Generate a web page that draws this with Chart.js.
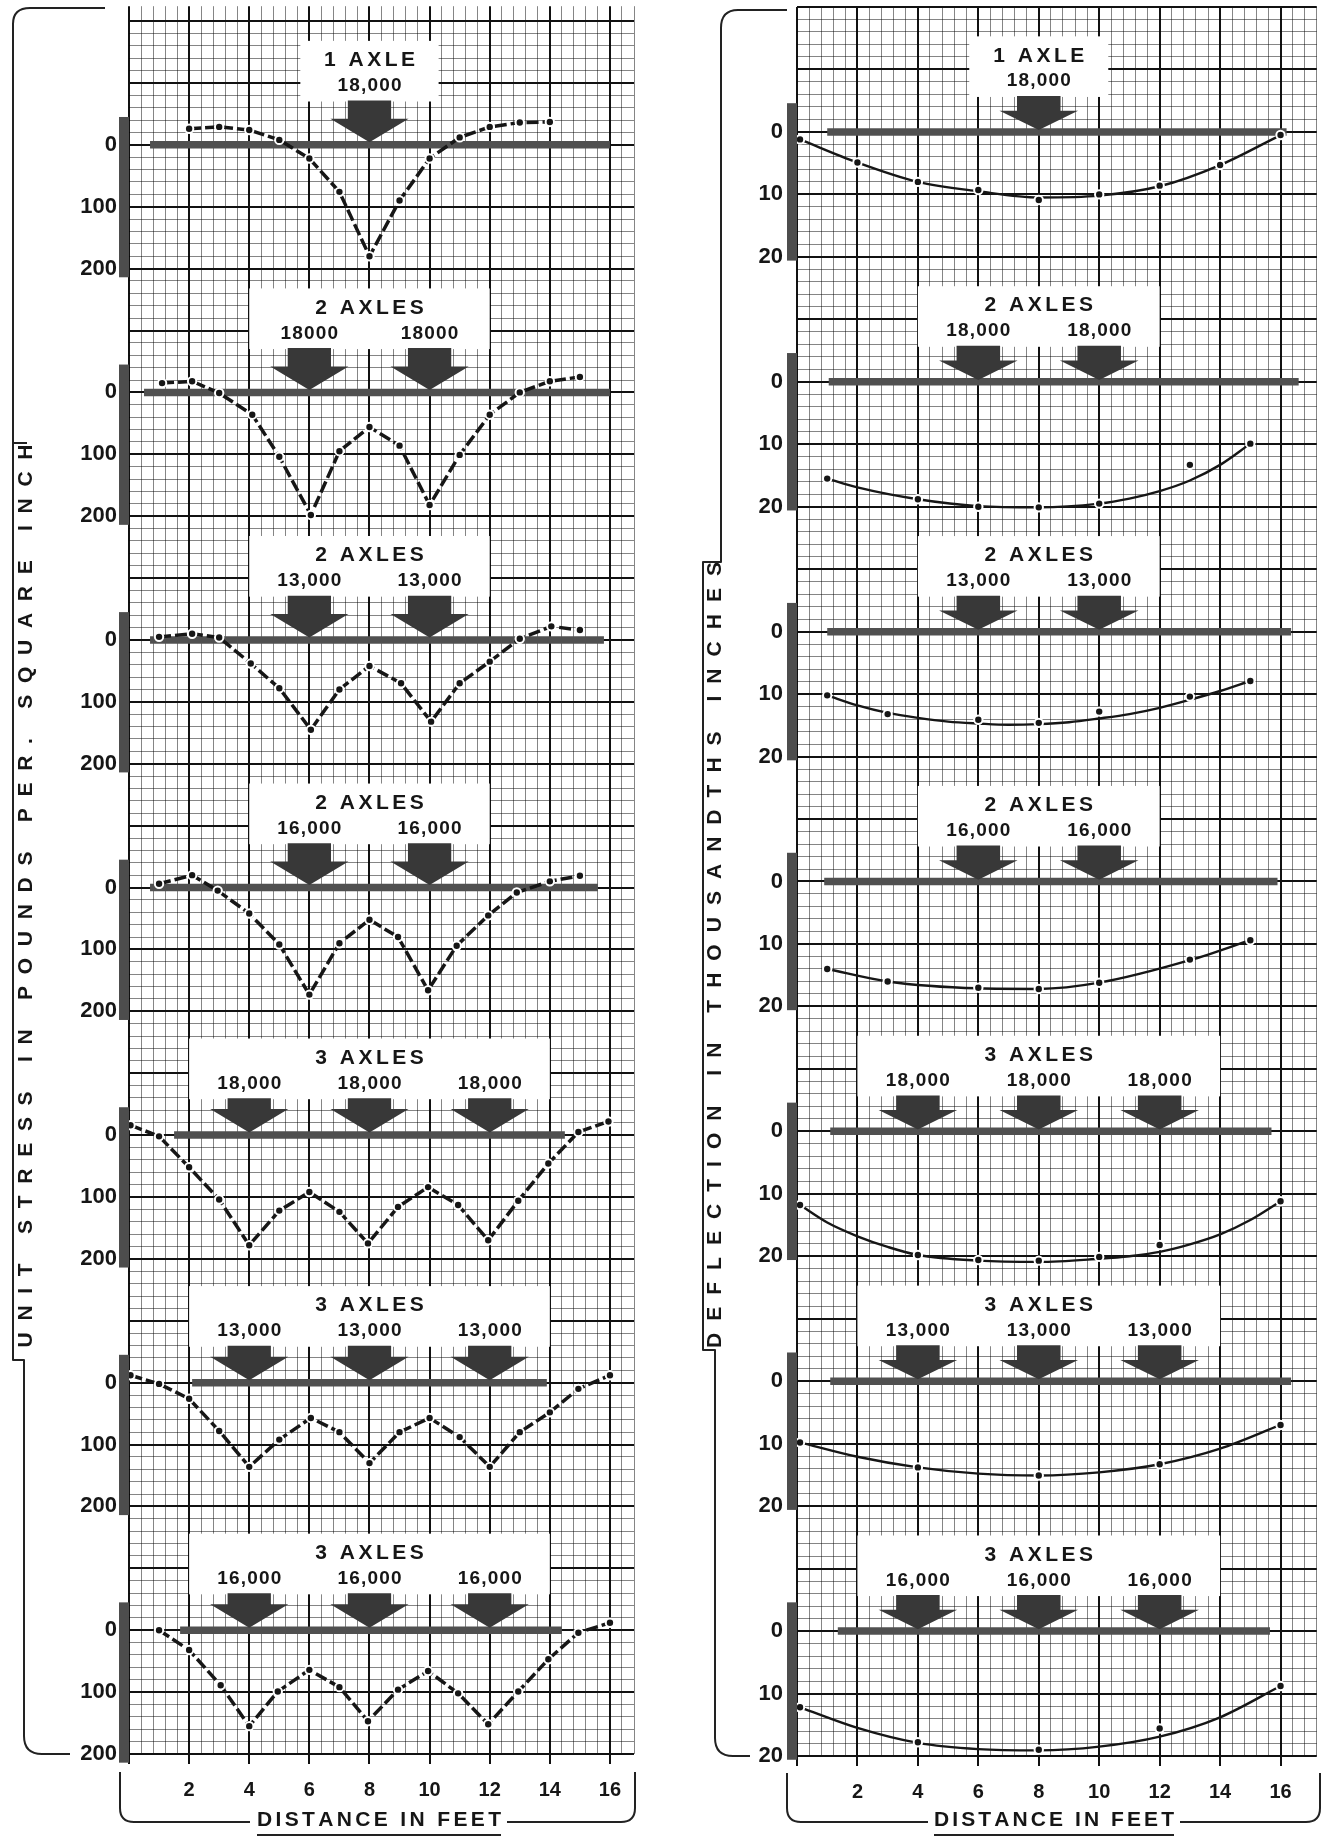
<!DOCTYPE html>
<html lang="en">
<head>
<meta charset="utf-8">
<title>Unit stress and deflection under axle loads</title>
<script src="https://cdn.jsdelivr.net/npm/chart.js@4.4.1/dist/chart.umd.min.js"></script>
<style>
  html, body { margin: 0; padding: 0; background: #fff; }
  #page { position: relative; width: 1323px; height: 1838px; overflow: hidden; }
  .col { position: absolute; top: 0; height: 1838px; }
  #stressBox { left: 0; width: 660px; }
  #deflBox { left: 660px; width: 663px; }
</style>
</head>
<body>
<div id="page">
  <div class="col" id="stressBox"><canvas id="stress"></canvas></div>
  <div class="col" id="deflBox"><canvas id="defl"></canvas></div>
</div>
<script>
// load cases, top to bottom
const caseTitles = ['1 AXLE', '2 AXLES', '2 AXLES', '2 AXLES', '3 AXLES', '3 AXLES', '3 AXLES'];
const axlePositions = [[8], [6, 10], [6, 10], [6, 10], [4, 8, 12], [4, 8, 12], [4, 8, 12]];
const stressLoads = [['18,000'], ['18000', '18000'], ['13,000', '13,000'], ['16,000', '16,000'],
  ['18,000', '18,000', '18,000'], ['13,000', '13,000', '13,000'], ['16,000', '16,000', '16,000']];
const deflLoads = [['18,000'], ['18,000', '18,000'], ['13,000', '13,000'], ['16,000', '16,000'],
  ['18,000', '18,000', '18,000'], ['13,000', '13,000', '13,000'], ['16,000', '16,000', '16,000']];

const distanceTicks = [2, 4, 6, 8, 10, 12, 14, 16];
const stressTicks = [0, 100, 200];
const deflTicks = [0, 10, 20];

// ends of the slab bar drawn at zero (feet)
const stressSlab = [[0.7, 16.0], [0.5, 16.0], [0.7, 15.8], [0.7, 15.6], [1.5, 14.5], [2.1, 13.9], [1.7, 14.4]];
const deflSlab = [[1.0, 16.2], [1.05, 16.6], [1.0, 16.35], [0.9, 15.9], [1.1, 15.7], [1.1, 16.35], [1.35, 15.65]];

// unit stress, lb per sq in
const stressX1 = [2, 3, 4, 5, 6, 7, 8, 9, 10, 11, 12, 13, 14];
const stressY1 = [-26, -29, -24, -8, 22, 76, 180, 90, 22, -12, -29, -36, -37];
const stressX2 = [1.1, 2.1, 3, 4.1, 5, 6.05, 7, 8, 9, 10, 11, 12, 13, 14, 15];
const stressY2 = [-15, -18, 1, 36, 104, 198, 95, 56, 86, 182, 101, 36, 0, -18, -25];
const stressX3 = [1.0, 2.1, 3, 4.05, 5, 6.05, 7, 8, 9.05, 10.05, 11, 12, 13, 14.05, 15];
const stressY3 = [-5, -10, -4, 38, 78, 145, 80, 42, 70, 132, 70, 35, -2, -22, -16];
const stressX4 = [1.0, 2.1, 2.95, 4, 5, 6, 7, 8, 8.95, 9.95, 10.9, 11.95, 12.9, 14.0, 15.0];
const stressY4 = [-6, -20, 5, 42, 92, 173, 90, 52, 80, 166, 94, 45, 8, -10, -19];
const stressX5 = [0.05, 1, 2, 3, 4, 5, 6, 7, 7.95, 8.95, 9.95, 10.95, 11.95, 12.95, 13.95, 14.95, 15.95];
const stressY5 = [-16, 2, 52, 104, 178, 122, 92, 124, 175, 116, 84, 113, 170, 106, 46, -5, -22];
const stressX6 = [0.05, 1, 2, 3, 4, 5, 6.05, 7, 8, 9, 10, 11, 12, 13, 14, 14.95, 16];
const stressY6 = [-12, 2, 26, 78, 136, 92, 57, 80, 130, 80, 57, 88, 136, 80, 48, 10, -12];
const stressX7 = [1, 2, 3.05, 4, 4.95, 6, 7, 7.95, 8.95, 9.95, 10.95, 11.95, 12.95, 13.95, 14.95, 16];
const stressY7 = [0, 32, 89, 155, 99, 64, 92, 147, 96, 66, 102, 152, 99, 47, 4, -12];

// deflection, thousandths of an inch: measured points and the faired curve
const deflPtX1 = [0.1, 2, 4, 6, 8, 10, 12, 14, 16];
const deflPtY1 = [1.2, 4.9, 8.0, 9.3, 10.9, 10.0, 8.6, 5.3, 0.5];
const deflCurveX1 = [0.1, 2, 4, 6, 8, 10, 12, 14, 16];
const deflCurveY1 = [1.2, 4.9, 8.0, 9.5, 10.5, 10.2, 8.7, 5.3, 0.5];
const deflPtX2 = [1, 4, 6, 8, 10, 13, 15];
const deflPtY2 = [15.5, 18.8, 20.0, 20.1, 19.5, 13.3, 9.9];
const deflCurveX2 = [1, 2, 4, 6, 8, 10, 11, 12, 13, 14, 15];
const deflCurveY2 = [15.5, 16.9, 18.8, 19.9, 20.1, 19.5, 18.7, 17.5, 15.8, 13.3, 9.9];
const deflPtX3 = [1, 3, 6, 8, 10, 13, 15];
const deflPtY3 = [10.2, 13.2, 14.1, 14.6, 12.8, 10.4, 7.9];
const deflCurveX3 = [1, 2, 3, 4, 5, 6, 7, 8, 9, 10, 11, 12, 13, 14, 15];
const deflCurveY3 = [10.2, 11.8, 13.0, 13.8, 14.4, 14.7, 14.9, 14.8, 14.5, 13.9, 13.2, 12.2, 10.9, 9.5, 7.9];
const deflPtX4 = [1, 3, 6, 8, 10, 13, 15];
const deflPtY4 = [14.0, 16.0, 17.0, 17.2, 16.2, 12.5, 9.4];
const deflCurveX4 = [1, 3, 6, 8, 10, 13, 15];
const deflCurveY4 = [14.0, 16.0, 17.1, 17.2, 16.2, 12.6, 9.4];
const deflPtX5 = [0.1, 4, 6, 8, 10, 12, 16];
const deflPtY5 = [11.8, 19.8, 20.6, 20.7, 20.1, 18.2, 11.2];
const deflCurveX5 = [0.1, 1, 2, 3, 4, 6, 8, 10, 11, 12, 13, 14, 15, 16];
const deflCurveY5 = [11.8, 14.6, 16.8, 18.5, 19.8, 20.7, 20.9, 20.4, 20.0, 19.3, 18.1, 16.5, 14.2, 11.2];
const deflPtX6 = [0.1, 4, 8, 12, 16];
const deflPtY6 = [9.8, 13.8, 15.1, 13.3, 7.0];
const deflCurveX6 = [0.1, 2, 4, 6, 8, 10, 12, 14, 16];
const deflCurveY6 = [9.8, 12.1, 13.8, 14.8, 15.1, 14.6, 13.3, 10.8, 7.0];
const deflPtX7 = [0.1, 4, 8, 12, 16];
const deflPtY7 = [12.2, 17.8, 19.0, 15.6, 8.8];
const deflCurveX7 = [0.1, 2, 4, 6, 8, 10, 12, 14, 16];
const deflCurveY7 = [12.2, 15.5, 17.9, 18.9, 19.1, 18.5, 16.9, 13.8, 8.8];

const stressX = [stressX1, stressX2, stressX3, stressX4, stressX5, stressX6, stressX7];
const stressY = [stressY1, stressY2, stressY3, stressY4, stressY5, stressY6, stressY7];
const deflPtX = [deflPtX1, deflPtX2, deflPtX3, deflPtX4, deflPtX5, deflPtX6, deflPtX7];
const deflPtY = [deflPtY1, deflPtY2, deflPtY3, deflPtY4, deflPtY5, deflPtY6, deflPtY7];
const deflCurveX = [deflCurveX1, deflCurveX2, deflCurveX3, deflCurveX4, deflCurveX5, deflCurveX6, deflCurveX7];
const deflCurveY = [deflCurveY1, deflCurveY2, deflCurveY3, deflCurveY4, deflCurveY5, deflCurveY6, deflCurveY7];

// ---- drawing ----
const INK = '#161616';
const MINOR = 'rgba(0,0,0,0.48)';
const NONE = 'rgba(0,0,0,0)';
const tickFont = { family: 'Liberation Sans', size: 22, weight: 'bold' };

function pairs(xs, ys) {
  return xs.map((x, k) => ({ x: x, y: ys[k] }));
}
function isMultiple(v, m) {
  return Math.abs(v / m - Math.round(v / m)) < 1e-6;
}
function gridColor(major, minor) {
  return c => {
    const v = c.tick ? c.tick.value : 0;
    if (isMultiple(v, major)) return '#111';
    return isMultiple(v, minor) ? MINOR : NONE;
  };
}
function gridWidth(major) {
  return c => (c.tick && isMultiple(c.tick.value, major)) ? 2 : 1;
}

function spacedText(ctx, str, cx, cy, spacing) {
  const chars = [...str];
  const widths = chars.map(ch => ctx.measureText(ch).width);
  const total = widths.reduce((a, b) => a + b, 0) + spacing * (chars.length - 1);
  let x = cx - total / 2;
  ctx.textAlign = 'left';
  ctx.textBaseline = 'middle';
  chars.forEach((ch, k) => { ctx.fillText(ch, x, cy); x += widths[k] + spacing; });
}
function fittedText(ctx, str, cx, cy, length) {
  const chars = [...str];
  const natural = chars.reduce((a, ch) => a + ctx.measureText(ch).width, 0);
  spacedText(ctx, str, cx, cy, (length - natural) / (chars.length - 1));
}

function xScale(max, pad) {
  return {
    type: 'linear', position: 'bottom', min: 0, max: max,
    afterFit: s => { s.height = 52; s.paddingLeft = 0; s.paddingRight = 0; },
    ticks: {
      stepSize: 0.4, autoSkip: false, maxTicksLimit: 1000, maxRotation: 0, minRotation: 0,
      padding: pad, color: INK, font: { family: 'Liberation Sans', size: 20, weight: 'bold' },
      callback: v => distanceTicks.includes(Math.round(v * 10) / 10) ? String(Math.round(v)) : ''
    },
    grid: {
      color: gridColor(2, 0.4), lineWidth: gridWidth(2), tickLength: 10,
      tickColor: c => (c.tick && isMultiple(c.tick.value, 2)) ? '#111' : NONE
    },
    border: { display: false }
  };
}

function yScale(i, min, max, step, major, labels, width, pad, span) {
  return {
    type: 'linear', position: 'left', stack: 'panels', weight: 7 - i,
    stackWeight: (max - min) / span,
    reverse: true, min: min, max: max,
    afterFit: s => { s.width = width; s.paddingTop = 0; s.paddingBottom = 0; },
    ticks: {
      stepSize: step, autoSkip: false, maxTicksLimit: 1000, padding: pad, color: INK, font: tickFont,
      callback: v => labels.includes(v) ? String(v) : ''
    },
    grid: { drawTicks: false, color: gridColor(major, step), lineWidth: gridWidth(major) },
    border: { display: false }
  };
}

function decorPlugin(kind, loads, geo) {
  return {
    id: 'decor-' + kind,
    afterDatasetsDraw(chart) {
      const ctx = chart.ctx, xs = chart.scales.x;
      const px = v => xs.getPixelForValue(v);
      ctx.save();
      for (let i = 0; i < 7; i++) {
        const ys = chart.scales['y' + i];
        const py = v => ys.getPixelForValue(v);
        const axles = axlePositions[i];
        const n = axles.length;
        const pad = n === 1 ? 2.3 : 2.0;
        const bx0 = px(axles[0] - pad), bx1 = px(axles[n - 1] + pad);
        const by0 = py(geo.boxTop(n)), by1 = py(geo.boxBottom(n));
        ctx.fillStyle = '#fff';
        ctx.fillRect(bx0, by0, bx1 - bx0, by1 - by0);
        ctx.fillStyle = '#383838';
        axles.forEach(a => {
          ctx.beginPath();
          ctx.moveTo(px(a - 0.72), by1 - 1);
          ctx.lineTo(px(a + 0.72), by1 - 1);
          ctx.lineTo(px(a + 0.72), py(geo.head));
          ctx.lineTo(px(a + 1.3), py(geo.head));
          ctx.lineTo(px(a), py(geo.tip));
          ctx.lineTo(px(a - 1.3), py(geo.head));
          ctx.lineTo(px(a - 0.72), py(geo.head));
          ctx.closePath();
          ctx.fill();
        });
        ctx.fillStyle = INK;
        ctx.font = 'bold 21px "Liberation Sans"';
        spacedText(ctx, caseTitles[i], (bx0 + bx1) / 2, by0 + 0.32 * (by1 - by0), 3.5);
        ctx.font = 'bold 19px "Liberation Sans"';
        loads[i].forEach((t, k) => spacedText(ctx, t, px(axles[k]), by0 + 0.74 * (by1 - by0), 1.2));
      }
      ctx.restore();
    },
    afterDraw(chart) {
      const ctx = chart.ctx, area = chart.chartArea;
      ctx.save();
      ctx.fillStyle = '#4d4d4d';
      for (let i = 0; i < 7; i++) {
        const ys = chart.scales['y' + i];
        const t = ys.getPixelForValue(geo.barTop), b = ys.getPixelForValue(geo.barBottom);
        ctx.fillRect(area.left - 10, t, 10, b - t);
      }
      // axis titles
      ctx.fillStyle = INK;
      ctx.font = 'bold 21px "Liberation Sans"';
      ctx.save();
      ctx.translate(geo.yTitle[0], geo.yTitle[1]);
      ctx.rotate(-Math.PI / 2);
      fittedText(ctx, geo.yTitleText, 0, 0, geo.yTitle[2]);
      ctx.restore();
      fittedText(ctx, 'DISTANCE IN FEET', geo.xTitle[0], geo.xTitle[1], geo.xTitle[2]);
      // brackets and underline
      ctx.strokeStyle = '#222';
      ctx.lineWidth = 2;
      ctx.lineJoin = 'round';
      geo.brackets.forEach(path => ctx.stroke(new Path2D(path)));
      ctx.restore();
    }
  };
}

function buildChart(canvasId, kind) {
  const isStress = kind === 'stress';
  const scales = { x: isStress ? xScale(16.8, 14) : xScale(17.2, 14) };
  const datasets = [];
  for (let i = 0; i < 7; i++) {
    const yId = 'y' + i;
    if (isStress) {
      scales[yId] = yScale(i, i === 0 ? -224 : -200, 200, 20, 100, stressTicks, 129, 12, 400);
      datasets.push({
        data: pairs(stressX[i], stressY[i]), yAxisID: yId, showLine: true, order: 0, clip: false,
        borderColor: INK, borderWidth: 3.5, borderDash: [12, 4], tension: 0,
        pointRadius: 4.2, pointBackgroundColor: INK, pointBorderColor: '#fff', pointBorderWidth: 2
      });
    } else {
      scales[yId] = yScale(i, -20, 20, 2, 10, deflTicks, 137, 14, 40);
      datasets.push({
        data: pairs(deflCurveX[i], deflCurveY[i]), yAxisID: yId, showLine: true, order: 1, clip: false,
        borderColor: INK, borderWidth: 2.4, cubicInterpolationMode: 'monotone', pointRadius: 0
      });
      datasets.push({
        data: pairs(deflPtX[i], deflPtY[i]), yAxisID: yId, showLine: false, order: 0, clip: false,
        pointRadius: 4.2, pointBackgroundColor: INK, pointBorderColor: '#fff', pointBorderWidth: 2
      });
    }
    const slab = isStress ? stressSlab[i] : deflSlab[i];
    datasets.push({
      data: [{ x: slab[0], y: 0 }, { x: slab[1], y: 0 }], yAxisID: yId, showLine: true, order: 5,
      borderColor: '#505050', borderWidth: 7.5, pointRadius: 0, borderCapStyle: 'butt'
    });
  }

  const geo = isStress ? {
    boxTop: n => n === 3 ? -156 : -168, boxBottom: n => n === 3 ? -58 : -70,
    head: -42, tip: -4, barTop: -45, barBottom: 214,
    yTitleText: 'UNIT STRESS IN POUNDS PER. SQUARE INCH', yTitle: [26, 896, 903],
    xTitle: [379, 1820, 244],
    brackets: [
      'M 105 8 L 30 8 Q 13 8 13 24 L 13 1360 L 24 1360 L 24 1736 Q 24 1754 42 1754 L 70 1754',
      'M 13 443 L 27 443',
      'M 120 1772 L 120 1808 Q 120 1822 134 1822 L 250 1822',
      'M 507 1822 L 621 1822 Q 635 1822 635 1808 L 635 1772',
      'M 257 1835 L 501 1835'
    ]
  } : {
    boxTop: () => -15.3, boxBottom: () => -5.6,
    head: -3.4, tip: -0.3, barTop: -4.6, barBottom: 20.6,
    yTitleText: 'DEFLECTION IN THOUSANDTHS INCHES', yTitle: [55, 955, 786],
    xTitle: [394, 1820, 240],
    brackets: [
      'M 127 10 L 78 10 Q 61 10 61 28 L 61 562 L 43 562 L 43 1350 L 55 1350 L 55 1738 Q 55 1756 73 1756 L 90 1756',
      'M 127 1773 L 127 1808 Q 127 1822 141 1822 L 268 1822',
      'M 520 1822 L 646 1822 Q 660 1822 660 1808 L 660 1773',
      'M 274 1835 L 514 1835'
    ]
  };

  return new Chart(document.getElementById(canvasId), {
    type: 'scatter',
    data: { datasets: datasets },
    options: {
      responsive: true,
      maintainAspectRatio: false,
      animation: false,
      events: [],
      layout: { padding: isStress ? { left: 0, right: 26, top: 5, bottom: 32 } : { left: 0, right: 3, top: 7, bottom: 30 } },
      plugins: { legend: { display: false }, tooltip: { enabled: false } },
      scales: scales
    },
    plugins: [decorPlugin(kind, isStress ? stressLoads : deflLoads, geo)]
  });
}

buildChart('stress', 'stress');
buildChart('defl', 'defl');
</script>
</body>
</html>
